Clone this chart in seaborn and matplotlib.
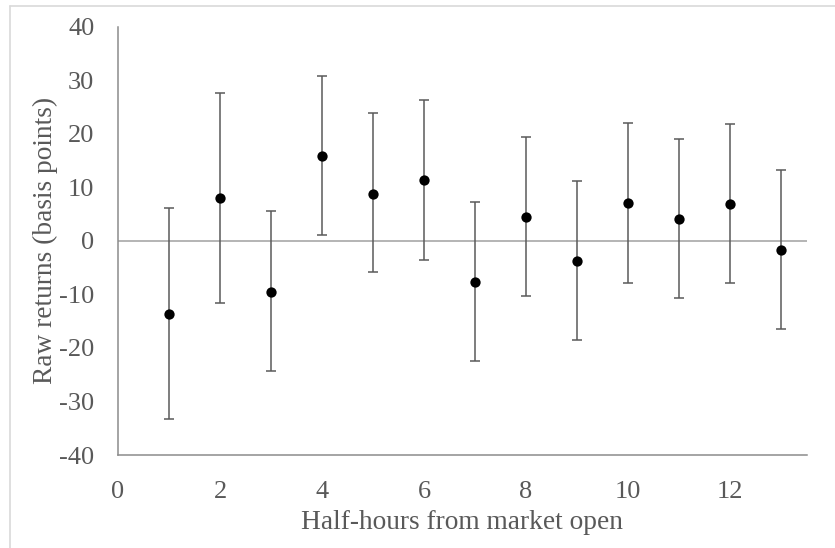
import matplotlib
matplotlib.use("Agg")
import matplotlib.pyplot as plt
from matplotlib.lines import Line2D
import seaborn as sns
import pandas as pd

# Data
half_hours = [1, 2, 3, 4, 5, 6, 7, 8, 9, 10, 11, 12, 13]
mean_ret = [-13.7, 8.0, -9.5, 15.9, 8.8, 11.4, -7.6, 4.5, -3.8, 7.0, 4.1, 6.9, -1.7]
upper_ci = [6.2, 27.7, 5.6, 30.8, 23.8, 26.3, 7.3, 19.4, 11.1, 22.0, 19.1, 21.8, 13.2]
lower_ci = [-33.3, -11.6, -24.3, 1.0, -5.9, -3.5, -22.5, -10.3, -18.6, -7.8, -10.6, -7.9, -16.5]
x_ticks = [0, 2, 4, 6, 8, 10, 12]
y_ticks = [-40, -30, -20, -10, 0, 10, 20, 30, 40]

df = pd.DataFrame({"x": half_hours, "y": mean_ret, "hi": upper_ci, "lo": lower_ci})

sns.set_theme(style="white")
plt.rcParams["font.family"] = ["Liberation Serif", "DejaVu Serif"]

TEXT = "#595959"
AXIS = "#8c8c8c"

fig = plt.figure(figsize=(8.35, 5.48), dpi=100)
ax = fig.add_axes([0.1413, 0.1697, 0.8248, 0.7816])

# error bars
yerr = [df["y"] - df["lo"], df["hi"] - df["y"]]
ax.errorbar(df["x"], df["y"], yerr=yerr, fmt="none", ecolor="#5a5a5a",
            elinewidth=1.1, capsize=3.5, capthick=1.1, zorder=2)

sns.scatterplot(data=df, x="x", y="y", ax=ax, color="black", s=55,
                edgecolor="black", linewidth=0, zorder=3)

ax.axhline(0, color="#a0a0a0", linewidth=1.1, zorder=1)

ax.set_xlim(0, 13.5)
ax.set_ylim(-40, 40)
ax.set_xticks(x_ticks)
ax.set_yticks(y_ticks)
ax.set_xticklabels([str(t) for t in x_ticks])
ax.set_yticklabels([str(t) for t in y_ticks])

ax.tick_params(axis="x", length=0, pad=19, labelsize=19, labelcolor=TEXT)
ax.tick_params(axis="y", length=0, pad=17, labelsize=19, labelcolor=TEXT)

for side in ["top", "right"]:
    ax.spines[side].set_visible(False)
for side in ["left", "bottom"]:
    ax.spines[side].set_color(AXIS)
    ax.spines[side].set_linewidth(1.1)

ax.set_xlabel("Half-hours from market open", fontsize=19.7, color=TEXT, labelpad=5)
ax.set_ylabel("Raw returns (basis points)", fontsize=19.7, color=TEXT, labelpad=0.5)
ax.grid(False)

# light chart frame (as in the reference)
fx = 10 / 835
fy = 1 - 5.5 / 548
fig.add_artist(Line2D([fx, 1.0], [fy, fy], transform=fig.transFigure,
                      color="#d9d9d9", linewidth=1.2))
fig.add_artist(Line2D([fx, fx], [0.0, fy], transform=fig.transFigure,
                      color="#d9d9d9", linewidth=1.2))

fig.savefig("out.png", dpi=100, facecolor="white")
